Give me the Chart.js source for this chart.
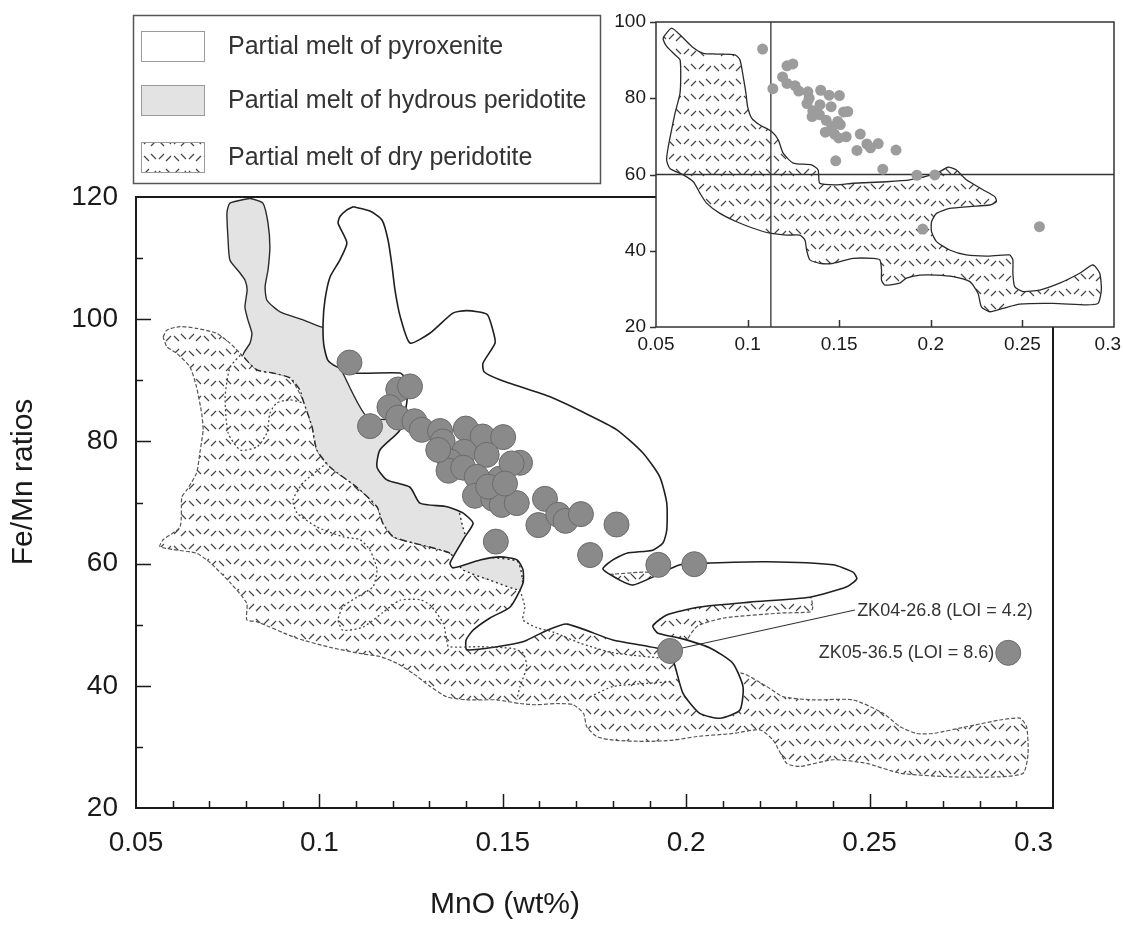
<!DOCTYPE html>
<html>
<head>
<meta charset="utf-8">
<title>Fe/Mn vs MnO</title>
<script src="https://cdn.jsdelivr.net/npm/chart.js@4.4.1/dist/chart.umd.min.js"></script>
<style>
  body { margin: 0; background: #fff; }
  #wrap { position: relative; width: 1123px; height: 931px; }
  #wrap canvas { position: absolute; left: 0; top: 0; }
</style>
</head>
<body>
<div id="wrap">
  <canvas id="main" width="1123" height="931"></canvas>
  <canvas id="inset" width="1123" height="931"></canvas>
</div>
<script>
// Axis ranges and ticks
const mnoRange = [0.05, 0.3];
const femnMainRange = [20, 120];
const femnInsetRange = [20, 100];
const mnoTicks = [0.05, 0.1, 0.15, 0.2, 0.25, 0.3];
const mnoTickLabels = ['0.05', '0.1', '0.15', '0.2', '0.25', '0.3'];
const femnMainTicks = [20, 40, 60, 80, 100, 120];
const femnInsetTicks = [20, 40, 60, 80, 100];

const legendLabels = ['Partial melt of pyroxenite', 'Partial melt of hydrous peridotite', 'Partial melt of dry peridotite'];

// Samples (MnO wt%, Fe/Mn); last one is ZK04-26.8
const sampleMnO = [0.1082, 0.1138, 0.1215, 0.1247, 0.1191, 0.1215, 0.1259, 0.1279, 0.1329, 0.1336,
  0.1399, 0.1445, 0.1501, 0.1395, 0.1356, 0.1352, 0.1456, 0.1392, 0.1429, 0.1492,
  0.1547, 0.1524, 0.1424, 0.1474, 0.1497, 0.1538, 0.1615, 0.1597, 0.1651, 0.1671,
  0.1713, 0.1810, 0.1481, 0.1738, 0.1924, 0.2022, 0.1460, 0.1506, 0.1324, 0.1956];
const sampleFeMn = [92.9, 82.5, 88.5, 89.0, 85.6, 83.9, 83.3, 81.9, 81.7, 80.0,
  82.1, 80.8, 80.7, 78.3, 76.7, 75.2, 77.8, 75.7, 74.2, 73.9,
  76.5, 76.4, 71.1, 70.6, 69.6, 69.9, 70.6, 66.3, 68.0, 67.0,
  68.1, 66.4, 63.6, 61.4, 59.8, 59.9, 72.6, 73.1, 78.6, 45.7];
// ZK05-36.5 sits at a different MnO in the main plot and in the inset
const zk05Main = [0.2878, 45.4];
const zk05Inset = [0.2593, 46.3];
const zk04Leader = [[0.1983, 46.1], [0.2460, 52.4]];
const zk04LabelAt = [0.2466, 52.3];

// Inset reference lines
const insetRefFeMn = 60;
const insetRefMnO = 0.1127;

// Field outlines (MnO, Fe/Mn)
const pyroxeniteField = [[0.1092,118.4],[0.1138,117.7],[0.1171,116.2],[0.1187,113.0],[0.1198,108.7],[0.1206,104.8],[0.1220,100.5],[0.1247,96.1],
  [0.1301,97.7],[0.1364,101.0],[0.1402,101.4],[0.1457,100.8],[0.1473,98.2],[0.1479,96.1],[0.1446,92.8],[0.1449,91.4],[0.1492,90.1],
  [0.1629,87.3],[0.1718,84.8],[0.1811,81.9],[0.1882,78.1],[0.1928,74.2],[0.1947,69.9],[0.1947,65.5],[0.1937,63.4],[0.1909,62.2],
  [0.1838,61.7],[0.1800,60.6],[0.1773,59.1],[0.1819,57.3],[0.1855,56.5],[0.1920,58.1],[0.1983,59.8],[0.2065,60.1],[0.2220,60.3],
  [0.2400,59.8],[0.2455,58.6],[0.2465,57.5],[0.2438,56.2],[0.2337,54.5],[0.2174,53.7],[0.2037,52.9],[0.1947,51.6],[0.1909,49.8],
  [0.1923,48.6],[0.1983,47.8],[0.2065,46.2],[0.2127,43.7],[0.2155,39.8],[0.2146,36.0],[0.2092,34.7],[0.2037,35.5],[0.1991,38.8],
  [0.1964,44.2],[0.1937,45.9],[0.1800,47.5],[0.1675,50.1],[0.1621,49.1],[0.1555,47.2],[0.1484,46.4],[0.1402,45.9],[0.1400,47.5],
  [0.1419,49.1],[0.1465,51.1],[0.1520,52.9],[0.1555,56.8],[0.1555,59.0],[0.1539,60.6],[0.1492,61.1],[0.1438,60.6],[0.1364,59.3],
  [0.1356,60.1],[0.1397,64.4],[0.1419,66.6],[0.1391,68.3],[0.1348,69.3],[0.1274,69.9],[0.1247,72.5],[0.1184,73.7],[0.1157,75.8],
  [0.1165,78.6],[0.1220,81.9],[0.1239,86.8],[0.1233,90.4],[0.1220,91.2],[0.1092,91.2],[0.1048,92.2],[0.1023,93.3],[0.1012,95.8],
  [0.1010,99.4],[0.1015,103.1],[0.1029,106.9],[0.1056,109.7],[0.1075,112.5],[0.1051,115.7],[0.1056,116.8],[0.1075,117.9]];

const hydrousField = [[0.0811,119.8],[0.0846,119.0],[0.0860,115.7],[0.0865,111.8],[0.0860,108.1],[0.0852,105.3],[0.0857,103.1],
  [0.0893,101.2],[0.0955,99.9],[0.1007,98.7],[0.1048,98.6],[0.1062,97.1],[0.1062,95.5],[0.1048,93.8],[0.1064,91.2],[0.1130,84.0],
  [0.1220,83.5],[0.1266,82.4],[0.1293,80.2],[0.1329,76.5],[0.1375,69.9],[0.1391,66.0],[0.1410,63.0],[0.1465,61.1],[0.1541,60.3],
  [0.1552,55.7],[0.1465,57.3],[0.1391,59.0],[0.1356,61.7],[0.1255,63.4],[0.1201,64.4],[0.1173,66.6],[0.1157,69.3],[0.1102,72.5],
  [0.1029,75.8],[0.0993,78.6],[0.0980,82.4],[0.0955,86.8],[0.0947,88.4],[0.0920,90.4],[0.0873,91.2],[0.0830,91.7],[0.0792,94.1],
  [0.0811,96.1],[0.0816,97.7],[0.0805,99.9],[0.0797,102.0],[0.0803,104.8],[0.0797,106.4],[0.0783,107.6],[0.0756,109.7],
  [0.0751,113.0],[0.0748,117.4],[0.0756,119.0]];

const dryFieldMain = [[0.0574,97.1],[0.0584,98.2],[0.0620,98.8],[0.0665,98.5],[0.0720,97.7],[0.0756,96.1],[0.0784,94.4],[0.0830,91.7],
  [0.0873,91.2],[0.0920,90.4],[0.0955,86.8],[0.0980,82.4],[0.0993,78.6],[0.1029,75.8],[0.1102,72.5],[0.1157,69.3],[0.1173,66.6],
  [0.1201,64.4],[0.1255,63.4],[0.1356,61.7],[0.1394,59.5],[0.1485,57.3],[0.1576,57.7],[0.1758,58.1],[0.1885,58.6],[0.2031,58.5],
  [0.2094,59.0],[0.2140,58.8],[0.2194,57.8],[0.2285,56.0],[0.2338,54.6],[0.2345,52.8],[0.2338,52.1],[0.2256,51.9],[0.2103,51.1],
  [0.2031,49.8],[0.2004,47.6],[0.2004,45.0],[0.2060,43.0],[0.2156,42.0],[0.2219,39.9],[0.2265,38.2],[0.2346,37.7],[0.2455,37.7],
  [0.2537,35.5],[0.2583,33.3],[0.2628,32.2],[0.2673,32.2],[0.2764,33.3],[0.2855,34.4],[0.2910,34.7],[0.2928,33.3],[0.2932,28.9],
  [0.2919,25.7],[0.2855,25.1],[0.2719,25.1],[0.2583,25.7],[0.2492,27.3],[0.2401,27.9],[0.2310,26.8],[0.2274,27.3],[0.2237,31.1],
  [0.2201,32.8],[0.2128,32.2],[0.2029,31.7],[0.1965,31.1],[0.1892,30.9],[0.1801,31.1],[0.1756,31.7],[0.1729,33.3],[0.1720,35.5],
  [0.1692,36.9],[0.1647,37.1],[0.1592,36.9],[0.1547,37.1],[0.1483,37.7],[0.1402,37.7],[0.1347,38.2],[0.1302,39.9],[0.1256,42.0],
  [0.1211,43.7],[0.1165,44.8],[0.1119,45.2],[0.1029,46.3],[0.0938,47.8],[0.0829,50.5],[0.0802,50.8],[0.0802,53.5],[0.0758,56.8],
  [0.0703,60.1],[0.0665,61.7],[0.0601,62.3],[0.0565,62.8],[0.0574,63.9],[0.0620,66.0],[0.0625,70.9],[0.0638,72.0],[0.0665,74.8],
  [0.0674,78.1],[0.0683,81.9],[0.0679,84.6],[0.0665,88.9],[0.0647,92.2],[0.0611,94.4],[0.0584,95.5]];

const dryFieldInset = [[0.0540,96.0],[0.0585,98.4],[0.0640,96.2],[0.0695,93.6],[0.0758,91.8],[0.0831,91.6],[0.0931,91.4],[0.0958,90.1],
  [0.0976,85.7],[0.0991,81.3],[0.1000,77.8],[0.1022,74.8],[0.1067,73.0],[0.1131,71.3],[0.1167,69.1],[0.1194,65.6],[0.1249,63.0],
  [0.1349,62.5],[0.1385,61.2],[0.1394,57.7],[0.1485,57.3],[0.1576,57.7],[0.1758,58.1],[0.1885,58.6],[0.2031,60.3],[0.2094,61.9],
  [0.2140,61.2],[0.2194,58.6],[0.2285,56.0],[0.2349,54.2],[0.2358,52.9],[0.2322,52.0],[0.2213,51.6],[0.2103,51.1],[0.2031,49.8],
  [0.2004,47.6],[0.2004,45.0],[0.2031,42.4],[0.2103,40.2],[0.2194,38.9],[0.2303,38.6],[0.2430,38.9],[0.2448,37.6],[0.2448,34.1],
  [0.2458,30.6],[0.2503,29.3],[0.2594,29.7],[0.2703,31.5],[0.2813,34.1],[0.2885,36.3],[0.2922,34.1],[0.2931,29.7],[0.2913,26.2],
  [0.2849,25.8],[0.2667,26.2],[0.2485,26.0],[0.2394,24.9],[0.2322,24.0],[0.2276,25.3],[0.2258,28.8],[0.2213,31.9],[0.2121,33.2],
  [0.2031,33.6],[0.1940,33.6],[0.1867,32.8],[0.1830,31.5],[0.1749,31.0],[0.1731,32.3],[0.1731,35.0],[0.1722,37.6],[0.1685,38.0],
  [0.1576,38.0],[0.1467,36.7],[0.1394,36.7],[0.1340,37.6],[0.1322,40.2],[0.1313,42.8],[0.1285,44.1],[0.1213,44.1],[0.1122,44.6],
  [0.1031,45.9],[0.0940,47.6],[0.0849,49.8],[0.0776,52.5],[0.0740,55.1],[0.0704,58.1],[0.0649,59.9],[0.0576,61.6],[0.0558,63.8],
  [0.0567,67.3],[0.0585,71.7],[0.0604,76.1],[0.0631,81.3],[0.0635,86.6],[0.0631,90.1],[0.0604,91.4],[0.0558,93.6],[0.0540,95.3]];

// Dotted sub-field boundaries inside the peridotite fields
const subFieldA = [[0.0784,94.1],[0.0756,92.1],[0.0743,87.3],[0.0751,81.4],[0.0784,78.6],[0.0830,79.1],[0.0857,81.4],[0.0865,84.6],
  [0.0884,86.3],[0.0920,86.8],[0.0955,86.3]];
const subFieldB = [[0.1021,76.5],[0.0955,73.2],[0.0928,70.4],[0.0939,68.3],[0.0993,66.0],[0.1064,64.4],[0.1111,63.9],[0.1138,62.2],
  [0.1157,59.0],[0.1146,56.2],[0.1102,54.5],[0.1064,52.9],[0.1051,50.8],[0.1064,49.1],[0.1119,49.6],[0.1173,52.0],[0.1220,54.0],
  [0.1274,54.1],[0.1302,53.2],[0.1338,50.2],[0.1347,47.5],[0.1352,46.4],[0.1438,46.4],[0.1529,46.1],[0.1556,45.3],[0.1565,43.1],
  [0.1547,39.9],[0.1538,37.7]];
const subFieldC = [[0.1547,55.7],[0.1560,52.9],[0.1555,50.8],[0.1593,49.5],[0.1637,48.8],[0.1710,47.0],[0.1800,45.4],[0.1937,44.5]];
const subFieldD = [[0.1738,38.2],[0.1801,39.9],[0.1892,40.4],[0.1965,40.7]];

const FONT = '"Liberation Sans", Arial, Helvetica, sans-serif';

// Dashed "V" hatch used for the dry peridotite field
function makeHatch() {
    const c = document.createElement('canvas');
    c.width = 30;
    c.height = 30;
    const g = c.getContext('2d');
    g.strokeStyle = '#454545';
    g.lineWidth = 1.2;
    const vee = (cx, cy, s) => {
        g.moveTo(cx - 6.5, cy - 4 * s); g.lineTo(cx - 1.5, cy + s);
        g.moveTo(cx + 1.5, cy + s); g.lineTo(cx + 6.5, cy - 4 * s);
    };
    g.beginPath();
    vee(7.5, 8, 1); vee(22.5, 7, -1); vee(7.5, 22, -1); vee(22.5, 23, 1);
    g.stroke();
    return g.createPattern(c, 'repeat');
}
const hatch = makeHatch();

function toPoints(pairs, close) {
    const pts = pairs.map(([x, y]) => ({x, y}));
    if (close) pts.push({...pts[0]});
    return pts;
}

function field(pairs, style) {
    return Object.assign({
        data: toPoints(pairs, true),
        showLine: true,
        pointRadius: 0,
        pointHoverRadius: 0,
        tension: 0.2,
        fill: 'shape'
    }, style);
}

function openLine(pairs, style) {
    return Object.assign({
        data: toPoints(pairs, false),
        showLine: true,
        pointRadius: 0,
        pointHoverRadius: 0,
        tension: 0.2,
        fill: false
    }, style);
}

function samplePoints(extra) {
    const pts = sampleMnO.map((x, i) => ({x, y: sampleFeMn[i]}));
    pts.push({x: extra[0], y: extra[1]});
    return pts;
}

// line style along the hydrous field outline
function hydrousDash(i) {
    if ((i >= 9 && i < 13) || (i >= 16 && i < 28)) return [2, 3];
    if (i >= 28 && i < 42) return [7, 3, 2, 3];
    return [];
}

// Decorations of the main plot: frame, inward ticks, labels, legend, notes
const mainDecor = {
    id: 'mainDecor',
    afterDraw(chart) {
        const {ctx, chartArea: a, scales: {x, y}} = chart;
        ctx.save();
        ctx.strokeStyle = '#1a1a1a';
        ctx.lineWidth = 2;
        ctx.strokeRect(a.left, a.top, a.right - a.left, a.bottom - a.top);

        ctx.lineWidth = 1.5;
        ctx.beginPath();
        for (let i = 1; i < 25; i++) {
            const px = Math.round(x.getPixelForValue(mnoRange[0] + i * 0.01)) + 0.5;
            const len = i % 5 === 0 ? 14 : 7;
            ctx.moveTo(px, a.bottom); ctx.lineTo(px, a.bottom - len);
        }
        for (let v = femnMainRange[0] + 10; v < femnMainRange[1]; v += 10) {
            const py = Math.round(y.getPixelForValue(v)) + 0.5;
            const len = v % 20 === 0 ? 15 : 7;
            ctx.moveTo(a.left, py); ctx.lineTo(a.left + len, py);
        }
        ctx.stroke();

        ctx.fillStyle = '#1a1a1a';
        ctx.font = '28px ' + FONT;
        ctx.textAlign = 'right';
        ctx.textBaseline = 'middle';
        femnMainTicks.forEach(v => ctx.fillText(String(v), a.left - 18, y.getPixelForValue(v)));
        ctx.textBaseline = 'top';
        mnoTicks.forEach((v, i) => {
            const last = i === mnoTicks.length - 1;
            ctx.textAlign = last ? 'right' : 'center';
            ctx.fillText(mnoTickLabels[i], last ? a.right : x.getPixelForValue(v), a.bottom + 21);
        });

        // axis titles
        ctx.font = '30px ' + FONT;
        ctx.textAlign = 'center';
        ctx.textBaseline = 'middle';
        ctx.fillText('MnO (wt%)', 505, 905);
        ctx.save();
        ctx.translate(24, 482);
        ctx.rotate(-Math.PI / 2);
        ctx.fillText('Fe/Mn ratios', 0, 0);
        ctx.restore();

        // sample notes
        ctx.fillStyle = '#333';
        ctx.font = '18px ' + FONT;
        ctx.textAlign = 'left';
        ctx.fillText('ZK04-26.8 (LOI = 4.2)', x.getPixelForValue(zk04LabelAt[0]), y.getPixelForValue(zk04LabelAt[1]));
        ctx.textAlign = 'right';
        ctx.fillText('ZK05-36.5 (LOI = 8.6)', x.getPixelForValue(zk05Main[0]) - 14, y.getPixelForValue(zk05Main[1]));

        // legend
        ctx.strokeStyle = '#555';
        ctx.lineWidth = 1.5;
        ctx.fillStyle = '#fff';
        ctx.fillRect(133, 15, 467, 168);
        ctx.strokeRect(133.5, 15.5, 467, 168);
        const rows = [46, 100, 157];
        const fills = ['#ffffff', '#e3e3e3', hatch];
        ctx.lineWidth = 1;
        ctx.strokeStyle = '#9a9a9a';
        rows.forEach((cy, i) => {
            ctx.fillStyle = fills[i];
            ctx.fillRect(141, cy - 15, 63, 30);
            ctx.strokeRect(141.5, cy - 14.5, 63, 30);
        });
        ctx.fillStyle = '#333';
        ctx.font = '25px ' + FONT;
        ctx.textAlign = 'left';
        rows.forEach((cy, i) => ctx.fillText(legendLabels[i], 228, cy + 1));
        ctx.restore();
    }
};

// Inset decorations
const insetDecor = {
    id: 'insetDecor',
    beforeDraw(chart) {
        const {ctx, chartArea: a} = chart;
        ctx.save();
        ctx.fillStyle = '#fff';
        ctx.fillRect(a.left, a.top, a.right - a.left, a.bottom - a.top);
        ctx.restore();
    },
    afterDraw(chart) {
        const {ctx, chartArea: a, scales: {x, y}} = chart;
        ctx.save();
        ctx.strokeStyle = '#333';
        ctx.lineWidth = 1.5;
        ctx.strokeRect(a.left, a.top, a.right - a.left, a.bottom - a.top);
        ctx.beginPath();
        mnoTicks.slice(1, -1).forEach(v => {
            const px = Math.round(x.getPixelForValue(v)) + 0.5;
            ctx.moveTo(px, a.bottom); ctx.lineTo(px, a.bottom - 7);
        });
        femnInsetTicks.forEach(v => {
            const py = Math.round(y.getPixelForValue(v)) + 0.5;
            ctx.moveTo(a.left, py); ctx.lineTo(a.left - 6, py);
        });
        ctx.stroke();

        ctx.fillStyle = '#1a1a1a';
        ctx.font = '19px ' + FONT;
        ctx.textAlign = 'right';
        ctx.textBaseline = 'middle';
        femnInsetTicks.forEach(v => ctx.fillText(String(v), a.left - 10, y.getPixelForValue(v)));
        ctx.textBaseline = 'top';
        mnoTicks.forEach((v, i) => {
            const last = i === mnoTicks.length - 1;
            ctx.textAlign = last ? 'right' : 'center';
            ctx.fillText(mnoTickLabels[i], last ? a.right + 7 : x.getPixelForValue(v), a.bottom + 8);
        });
        ctx.restore();
    }
};

const baseOptions = (padding, yRange) => ({
    responsive: false,
    animation: false,
    devicePixelRatio: 1,
    events: [],
    layout: {padding},
    scales: {
        x: {type: 'linear', min: mnoRange[0], max: mnoRange[1], display: false},
        y: {type: 'linear', min: yRange[0], max: yRange[1], display: false}
    },
    plugins: {legend: {display: false}, tooltip: {enabled: false}}
});

new Chart(document.getElementById('main'), {
    type: 'line',
    data: {
        datasets: [
            field(dryFieldMain, {backgroundColor: hatch, borderColor: '#555', borderWidth: 1.2, borderDash: [4, 2], order: 7}),
            field(hydrousField, {backgroundColor: '#e3e3e3', borderWidth: 0, borderColor: 'rgba(0,0,0,0)', order: 6}),
            openLine(hydrousField.concat([hydrousField[0]]), {
                borderColor: '#2a2a2a', borderWidth: 1.4, order: 5,
                segment: {borderDash: c => hydrousDash(c.p0DataIndex)}
            }),
            field(pyroxeniteField, {backgroundColor: '#ffffff', borderColor: '#1f1f1f', borderWidth: 1.6, order: 4}),
            openLine(subFieldA, {borderColor: '#444', borderWidth: 1.3, borderDash: [2, 2.5], order: 3}),
            openLine(subFieldB, {borderColor: '#444', borderWidth: 1.3, borderDash: [2, 2.5], order: 3}),
            openLine(subFieldC, {borderColor: '#444', borderWidth: 1.3, borderDash: [2, 2.5], order: 3}),
            openLine(subFieldD, {borderColor: '#444', borderWidth: 1.3, borderDash: [2, 2.5], order: 3}),
            openLine(zk04Leader, {borderColor: '#333', borderWidth: 1.2, tension: 0, order: 2}),
            {
                data: samplePoints(zk05Main),
                showLine: false,
                pointRadius: 12.5,
                pointBackgroundColor: '#8a8a8a',
                pointBorderColor: '#6b6b6b',
                pointBorderWidth: 1,
                order: 1
            }
        ]
    },
    options: baseOptions({left: 136, right: 70, top: 197, bottom: 123}, femnMainRange),
    plugins: [mainDecor]
});

new Chart(document.getElementById('inset'), {
    type: 'line',
    data: {
        datasets: [
            field(dryFieldInset, {backgroundColor: hatch, borderColor: '#2a2a2a', borderWidth: 1.3, order: 4}),
            openLine([[mnoRange[0], insetRefFeMn], [mnoRange[1], insetRefFeMn]], {borderColor: '#333', borderWidth: 1.3, tension: 0, order: 3}),
            openLine([[insetRefMnO, femnInsetRange[0]], [insetRefMnO, femnInsetRange[1]]], {borderColor: '#333', borderWidth: 1.3, tension: 0, order: 3}),
            {
                data: samplePoints(zk05Inset),
                showLine: false,
                pointRadius: 5.5,
                pointBackgroundColor: '#9c9c9c',
                pointBorderColor: '#9c9c9c',
                pointBorderWidth: 0,
                order: 1
            }
        ]
    },
    options: baseOptions({left: 656, right: 9, top: 22, bottom: 604}, femnInsetRange),
    plugins: [insetDecor]
});
</script>
</body>
</html>
